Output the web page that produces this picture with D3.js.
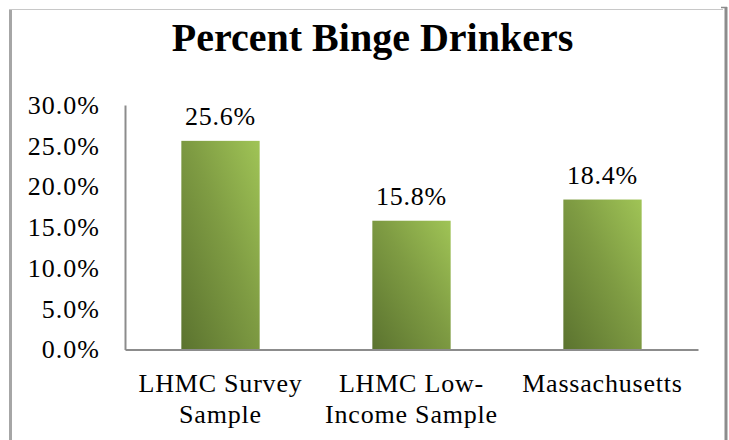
<!DOCTYPE html>
<html>
<head>
<meta charset="utf-8">
<script src="https://cdn.jsdelivr.net/npm/d3@7"></script>
<style>
  html, body { margin: 0; padding: 0; background: #fff; }
  svg { display: block; }
</style>
</head>
<body>
<svg id="chart" width="729" height="440"></svg>
<script>
const title = "Percent Binge Drinkers";
const categories = ["LHMC Survey Sample", "LHMC Low-Income Sample", "Massachusetts"];
const categoryLines = [["LHMC Survey", "Sample"], ["LHMC Low-", "Income Sample"], ["Massachusetts"]];
const values = [25.6, 15.8, 18.4];
const valueLabels = ["25.6%", "15.8%", "18.4%"];
const yTicks = [0, 5, 10, 15, 20, 25, 30];
const yTickLabels = ["0.0%", "5.0%", "10.0%", "15.0%", "20.0%", "25.0%", "30.0%"];

const svg = d3.select("#chart");
const font = "'Liberation Serif', 'Times New Roman', serif";

const plot = { left: 125, right: 698, top: 105, bottom: 349.5 };

const x = d3.scaleBand().domain(categories).range([plot.left, plot.right]).paddingInner(0.59).paddingOuter(0.295);
const y = d3.scaleLinear().domain([0, 30]).range([plot.bottom, plot.top]);

// gradient
const defs = svg.append("defs");
const grad = defs.append("linearGradient").attr("id", "barGrad")
  .attr("x1", 0).attr("y1", 1).attr("x2", 1).attr("y2", 0);
grad.append("stop").attr("offset", "0%").attr("stop-color", "#5b732f");
grad.append("stop").attr("offset", "55%").attr("stop-color", "#7f9c43");
grad.append("stop").attr("offset", "100%").attr("stop-color", "#a0c456");

// outer border
svg.append("line").attr("x1", 10.5).attr("x2", 10.5).attr("y1", 9).attr("y2", 440)
  .attr("stroke", "#a6a6a6").attr("stroke-width", 3);
svg.append("line").attr("x1", 9).attr("x2", 723).attr("y1", 9.5).attr("y2", 9.5)
  .attr("stroke", "#c8c8c8").attr("stroke-width", 1);
svg.append("line").attr("x1", 721).attr("x2", 727).attr("y1", 7.5).attr("y2", 7.5)
  .attr("stroke", "#8c8c8c").attr("stroke-width", 1.5);
svg.append("line").attr("x1", 726).attr("x2", 726).attr("y1", 7).attr("y2", 440)
  .attr("stroke", "#8c8c8c").attr("stroke-width", 3);

// title
svg.append("text").attr("x", 372.5).attr("y", 51)
  .attr("text-anchor", "middle").attr("font-family", font)
  .attr("font-weight", "bold").attr("font-size", 40).attr("fill", "#000")
  .text(title);

// bars
svg.selectAll("rect.bar").data(categories).join("rect")
  .attr("class", "bar")
  .attr("x", d => x(d))
  .attr("width", x.bandwidth())
  .attr("y", (d, i) => y(values[i]))
  .attr("height", (d, i) => y(0) - y(values[i]))
  .attr("fill", "url(#barGrad)");

// value labels
svg.selectAll("text.val").data(categories).join("text")
  .attr("class", "val")
  .attr("x", d => x(d) + x.bandwidth() / 2)
  .attr("y", (d, i) => y(values[i]) - 16)
  .attr("text-anchor", "middle").attr("font-family", font).attr("font-size", 26)
  .attr("letter-spacing", 0.8)
  .attr("fill", "#000")
  .text((d, i) => valueLabels[i]);

// y axis
const yAxis = d3.axisLeft(y).tickValues(yTicks).tickSize(0).tickPadding(25)
  .tickFormat((d, i) => yTickLabels[i]);
const gy = svg.append("g").attr("transform", `translate(${plot.left},0)`).call(yAxis);
gy.select(".domain").attr("stroke", "#8c8c8c").attr("stroke-width", 2);
gy.selectAll("text").attr("font-family", font).attr("font-size", 26).attr("fill", "#000")
  .attr("letter-spacing", 1);

// x axis
const xAxis = d3.axisBottom(x).tickSize(0).tickFormat("");
const gx = svg.append("g").attr("transform", `translate(0,${plot.bottom})`).call(xAxis);
gx.select(".domain").attr("stroke", "#8c8c8c").attr("stroke-width", 2);

// category labels
categories.forEach((c, i) => {
  const t = svg.append("text")
    .attr("x", x(c) + x.bandwidth() / 2)
    .attr("y", 392)
    .attr("text-anchor", "middle").attr("font-family", font).attr("font-size", 26)
    .attr("letter-spacing", 0.8)
    .attr("fill", "#000");
  categoryLines[i].forEach((line, j) => {
    t.append("tspan").attr("x", x(c) + x.bandwidth() / 2).attr("y", 392 + j * 31).text(line);
  });
});
</script>
</body>
</html>
